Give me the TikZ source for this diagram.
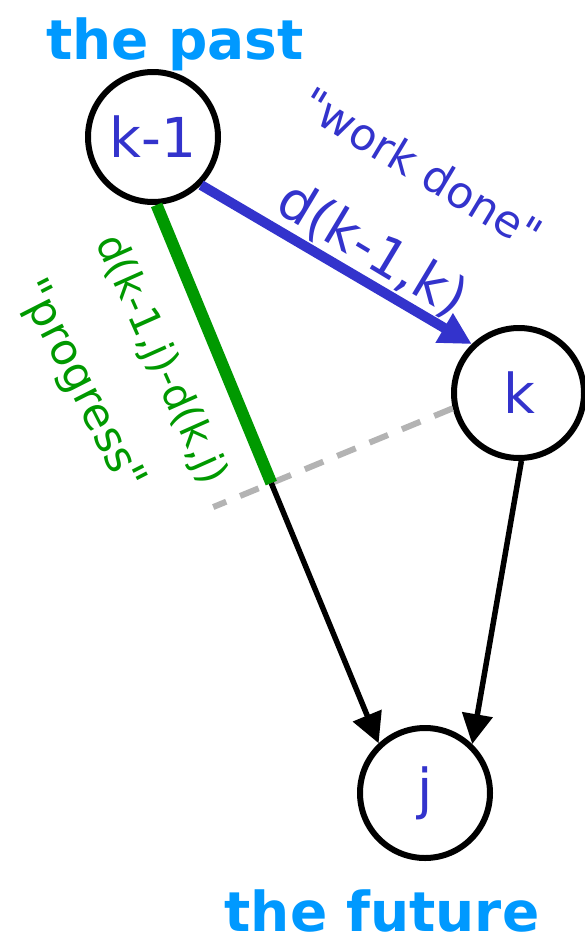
\documentclass[tikz,border=0pt]{standalone}
\usepackage{fontspec}
\setmainfont{DejaVu Sans}[Ligatures=TeXOff]
\usetikzlibrary{arrows.meta,calc}
\definecolor{skyblue}{HTML}{0099FF}
\definecolor{indigo}{HTML}{3333CC}
\definecolor{leaf}{HTML}{009900}
\definecolor{ash}{HTML}{B3B3B3}
\tikzset{
  vertex/.style={circle,draw=black,line width=6pt,minimum size=130pt,inner sep=0pt,
    text=indigo,font=\fontsize{55}{55}\selectfont},
  title/.style={text=skyblue,font=\bfseries\fontsize{55}{55}\selectfont,anchor=base,inner sep=0pt},
  edgeb/.style={line width=5.5pt,-{Triangle[length=30pt,width=30pt]}},
  lbl/.style={inner sep=0pt}
}
\begin{document}
\begin{tikzpicture}[x=1pt,y=-1pt]
\useasboundingbox (0,0) rectangle (585,945);
\node[vertex] (k1) at (153,137) {k-1};
\node[vertex] (k) at (519,393) {k};
\node[vertex] (j) at (425,793) {j};
\node[title] (past) at (175,59) {the past};
\node[title] (future) at (382,931) {the future};
\coordinate (P) at ($(k1.-87)!(k.193)!(j.133)$);
\coordinate (D) at ($(k.193)!1.32!(P)$);
\draw[ash,line width=6pt,dash pattern=on 20pt off 15pt] (k.193) -- (D);
\draw[leaf,line width=12pt] (k1.-87) -- (P);
\draw[edgeb] (P) -- (j.133);
\draw[edgeb] (k.-88) -- (j.46);
\draw[indigo,line width=10pt,-{Triangle[length=32pt,width=32pt]}] (k1.-45) -- (k.134);
\node[lbl,text=indigo,rotate=-31,font=\fontsize{44}{44}\selectfont] (wd) at (422,168) {"work done"};
\node[lbl,text=indigo,rotate=-31,font=\fontsize{54}{54}\selectfont] (dkk) at (372,250) {d(k-1,k)};
\node[lbl,text=leaf,rotate=-66,font=\fontsize{41}{41}\selectfont] (dj) at (160,360) {d(k-1,j)-d(k,j)};
\node[lbl,text=leaf,rotate=-63,font=\fontsize{44}{44}\selectfont] (pr) at (80,386) {"progress"};
\end{tikzpicture}
\end{document}
